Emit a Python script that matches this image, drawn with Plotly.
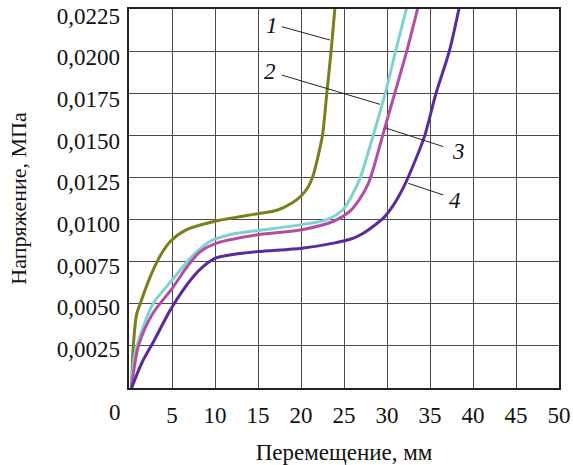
import plotly.graph_objects as go

# ---- data ----
x1 = [0.3, 0.5, 0.9, 1.3, 2.0, 2.8, 3.8, 4.8, 6.7, 10, 15, 17.2, 19.0, 20.0, 20.8, 21.4, 22.0, 22.5, 23.0, 23.5, 23.95]
y1 = [0, 0.0025, 0.0044, 0.0050, 0.0060, 0.0070, 0.0080, 0.0087, 0.0094, 0.0099, 0.01035, 0.01055, 0.0110, 0.0114, 0.0119, 0.0126, 0.0138, 0.0150, 0.0175, 0.0200, 0.0226]

x2 = [0.3, 0.6, 1.3, 2.8, 5.0, 7.3, 9.4, 11.7, 15, 20.1, 23.0, 24.9, 26.0, 26.9, 28.4, 29.8, 31.0, 32.3]
y2 = [0, 0.0018, 0.0031, 0.0050, 0.0064, 0.0078, 0.0087, 0.0091, 0.00935, 0.0097, 0.0100, 0.0106, 0.0115, 0.0125, 0.0150, 0.0175, 0.0200, 0.0226]

x3 = [0.3, 1.1, 2.8, 5.0, 6.9, 8.3, 10.2, 15, 20.1, 23.8, 25.7, 26.8, 27.8, 28.4, 29.5, 30.9, 32.3, 33.6]
y3 = [0, 0.0025, 0.00445, 0.0059, 0.0073, 0.0081, 0.0086, 0.0091, 0.0094, 0.0099, 0.0105, 0.0112, 0.0121, 0.0130, 0.0150, 0.0175, 0.0200, 0.0226]

x4 = [0.3, 1.5, 2.8, 5.0, 7.3, 8.6, 10, 11.7, 15, 20.1, 23.8, 26.1, 27.3, 28.4, 29.6, 30.8, 32.0, 33.2, 34.4, 35.7, 37.25, 38.4]
y4 = [0, 0.0015, 0.0027, 0.0048, 0.0065, 0.0072, 0.0077, 0.0079, 0.0081, 0.0083, 0.0086, 0.0089, 0.0092, 0.0096, 0.0101, 0.0109, 0.0120, 0.0134, 0.0150, 0.0175, 0.0200, 0.0226]

series = [(x1, y1, "#7b7f17"), (x2, y2, "#80d2cf"), (x3, y3, "#b24ea6"), (x4, y4, "#5a2c9b")]

x_ticks = [5, 10, 15, 20, 25, 30, 35, 40, 45, 50]
y_ticks = [0.0025, 0.0050, 0.0075, 0.0100, 0.0125, 0.0150, 0.0175, 0.0200, 0.0225]
y_tick_text = ["0,0025", "0,0050", "0,0075", "0,0100", "0,0125", "0,0150", "0,0175", "0,0200", "0,0225"]

labels = ["1", "2", "3", "4"]
label_pos = [(16.6, 0.02155), (16.4, 0.01878), (38.3, 0.01403), (37.9, 0.01116)]
leaders = [((17.76, 0.02145), (23.37, 0.02066)),
           ((17.76, 0.01858), (29.19, 0.01684)),
           ((29.77, 0.01545), (36.55, 0.01433)),
           ((32.48, 0.01215), (36.55, 0.01146))]

FONT = "Liberation Serif, Times New Roman, serif"

fig = go.Figure()
for xs, ys, c in series:
    fig.add_trace(go.Scatter(x=xs, y=ys, mode="lines",
                             line=dict(color=c, width=3, shape="spline", smoothing=0.8),
                             showlegend=False, hoverinfo="skip"))

# invisible trace to activate the label axis
fig.add_trace(go.Scatter(x=[None], y=[None], yaxis="y2", showlegend=False, hoverinfo="skip"))

for (a, b) in leaders:
    fig.add_shape(type="line", x0=a[0], y0=a[1], x1=b[0], y1=b[1],
                  line=dict(color="#222", width=1), layer="above")

for t, (lx, ly) in zip(labels, label_pos):
    fig.add_annotation(x=lx, y=ly, text="<i>" + t + "</i>", showarrow=False,
                       font=dict(family=FONT, size=23, color="#111"),
                       xanchor="center", yanchor="middle")

fig.add_annotation(x=0, y=0, text="0", showarrow=False, xref="x", yref="y",
                   xshift=-14, yshift=-24, xanchor="center", yanchor="middle",
                   font=dict(family=FONT, size=23, color="#111"))

grid_col = "#4a4a4a"
fig.update_layout(
    width=573, height=465,
    margin=dict(l=129, r=14, t=9, b=77),
    paper_bgcolor="white", plot_bgcolor="white",
    font=dict(family=FONT, size=23, color="#111"),
    xaxis=dict(range=[0, 50.0001], tickvals=x_ticks, ticktext=[str(v) for v in x_ticks],
               showgrid=True, gridcolor=grid_col, gridwidth=1.3,
               showline=True, linecolor="#222", linewidth=1.5, mirror=True,
               ticks="", ticklabelstandoff=6, zeroline=False, automargin=False,
               title=dict(text="Перемещение, мм", standoff=18,
                          font=dict(family=FONT, size=23))),
    yaxis=dict(range=[0, 0.022501], tickvals=y_ticks,
               showticklabels=False,
               showgrid=True, gridcolor=grid_col, gridwidth=1.3,
               showline=True, linecolor="#222", linewidth=1.5, mirror=True,
               ticks="", zeroline=False, automargin=False),
    # label axis: tick labels sit slightly below their grid lines, as in the reference
    yaxis2=dict(overlaying="y", side="left", range=[0.00016, 0.02289],
                tickvals=y_ticks, ticktext=y_tick_text,
                showgrid=False, showline=False, zeroline=False,
                ticks="", ticklabelstandoff=8, ticklabeloverflow="allow",
                automargin=False,
                title=dict(text="Напряжение, МПа", standoff=24,
                           font=dict(family=FONT, size=22))),
)

fig.write_html("out.html", config={"displayModeBar": False},
               post_script="document.body.style.margin='0';")
